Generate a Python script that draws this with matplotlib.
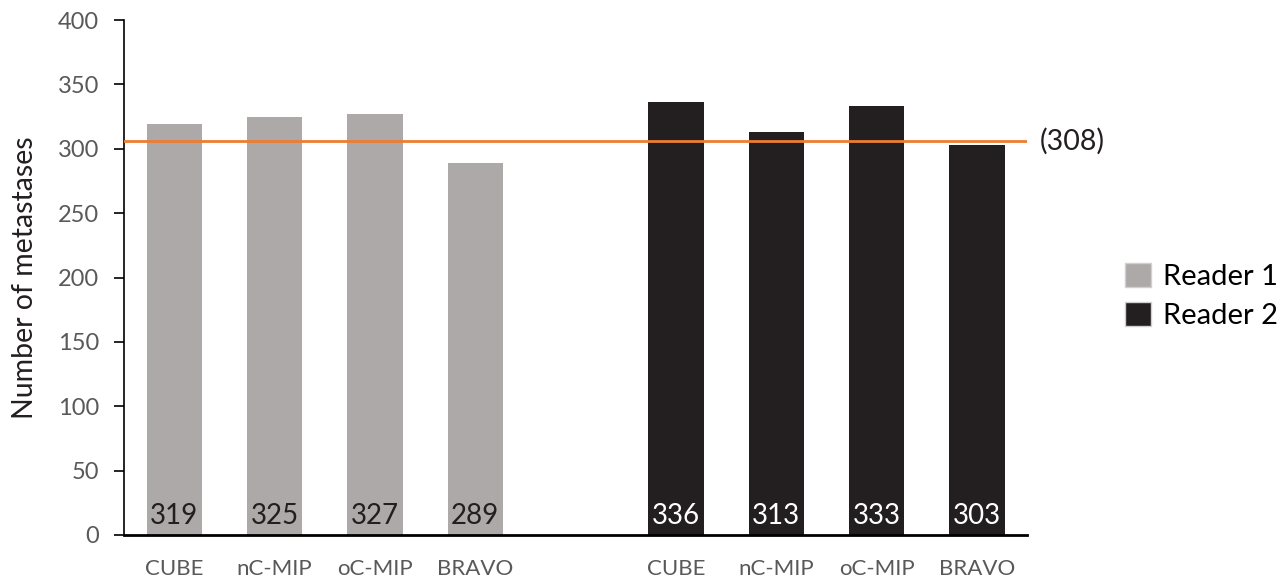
import matplotlib.pyplot as plt
from matplotlib.patches import Patch

plt.rcParams['font.family'] = ['Lato', 'DejaVu Sans']

methods = ["CUBE", "nC-MIP", "oC-MIP", "BRAVO"]
reader1 = [319, 325, 327, 289]
reader2 = [336, 313, 333, 303]
reference_line = 306
reference_label = "(308)"

pos1 = [0, 1, 2, 3]
pos2 = [5, 6, 7, 8]
c1 = "#ADA9A8"
c2 = "#231F20"

fig = plt.figure(figsize=(12.84, 5.80), dpi=100)
ax = fig.add_axes([0.0966, 0.0776, 0.7034, 0.8879])

ax.bar(pos1, reader1, width=0.55, color=c1)
ax.bar(pos2, reader2, width=0.55, color=c2)

for x, v in zip(pos1, reader1):
    ax.text(x, 15, str(v), ha="center", va="center", fontsize=20, color="#231F20")
for x, v in zip(pos2, reader2):
    ax.text(x, 15, str(v), ha="center", va="center", fontsize=20, color="white")

ax.axhline(reference_line, color="#ED7D31", lw=2, zorder=3)
ax.annotate(reference_label, xy=(1.0, reference_line), xycoords=("axes fraction", "data"),
            xytext=(9, 0), textcoords="offset points", ha="left", va="center",
            fontsize=20.5, color="#231F20", annotation_clip=False)

ax.set_xlim(-0.5, 8.5)
ax.set_ylim(0, 400)
ax.set_yticks(range(0, 401, 50))
ax.set_xticks(pos1 + pos2)
ax.set_xticklabels(methods + methods)
ax.tick_params(axis="x", length=0, pad=17, labelsize=16, labelcolor="#595959")
ax.tick_params(axis="y", length=7, width=1.2, pad=11, labelsize=17, labelcolor="#595959")
ax.set_ylabel("Number of metastases", fontsize=20.5, color="#231F20", labelpad=14)

for s in ["top", "right"]:
    ax.spines[s].set_visible(False)
ax.spines["left"].set_linewidth(1.2)
ax.spines["bottom"].set_linewidth(2)

handles = [Patch(facecolor=c1, edgecolor="#D0D0D0", label="Reader 1"),
           Patch(facecolor=c2, edgecolor="#D0D0D0", label="Reader 2")]
fig.legend(handles=handles, loc="center left", bbox_to_anchor=(0.876, 0.49),
           frameon=False, fontsize=21, handlelength=0.9, handleheight=0.9,
           handletextpad=0.4, labelspacing=0.4, borderpad=0.0, borderaxespad=0.0)

fig.savefig("out.png", dpi=100)
